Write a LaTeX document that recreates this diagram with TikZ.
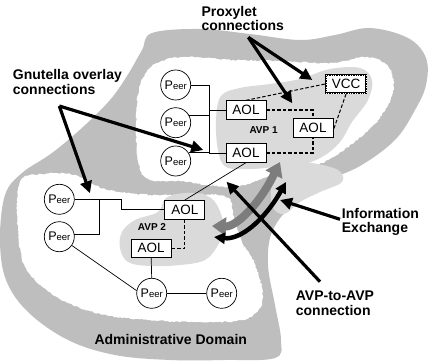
\documentclass[tikz,border=0pt]{standalone}
\usepackage{fontspec}
\setmainfont{Liberation Sans}
\usetikzlibrary{arrows.meta,decorations.pathmorphing}

\definecolor{domaingray}{RGB}{190,190,190}
\definecolor{avpgray}{RGB}{218,218,218}
\definecolor{flowgray}{RGB}{125,125,125}

% "Peer" with a large P and small trailing letters
\newcommand{\peerlabel}{{\fontsize{12.5}{12.5}\selectfont P}{\fontsize{9.5}{9.5}\selectfont eer}}

\begin{document}
\begin{tikzpicture}[x=1pt,y=-1pt,
  peer/.style={circle, draw, line width=0.7pt, fill=white, minimum size=30pt, inner sep=0pt},
  aol/.style={rectangle, draw, line width=0.8pt, fill=white, minimum width=40pt,
    minimum height=18.5pt, inner sep=0pt, font=\fontsize{13.5}{13.5}\selectfont},
  vccbox/.style={aol, line width=1.7pt,
    postaction={draw=white, line width=0.3pt, dash pattern=on 0.4pt off 2pt}},
  wire/.style={line width=0.7pt},
  dashwire/.style={line width=1.3pt, dash pattern=on 3.5pt off 2pt},
  thindash/.style={line width=1pt, dash pattern=on 3.5pt off 2pt},
  callout/.style={line width=3.2pt, -{Triangle[length=12pt,width=11.5pt]}},
  labeltext/.style={font=\bfseries\fontsize{14}{14.5}\selectfont, align=left,
    anchor=base west, inner sep=0pt},
  avplabel/.style={font=\bfseries\fontsize{10}{10}\selectfont, anchor=base west, inner sep=0pt},
  fuzzy/.style={decorate, decoration={random steps, segment length=2pt, amplitude=0.7pt}}
]
\pgfmathsetseed{7}
\useasboundingbox (0,0) rectangle (429,361);

% administrative domain
\fill[domaingray] plot[smooth cycle, tension=0.6] coordinates {
  (152,33) (200,29) (250,34) (300,40) (335,35) (370,28) (408,38) (426,58)
  (426,85) (415,110) (395,140) (360,166) (322,183) (292,205) (272,232)
  (268,265) (275,305) (281,340) (275,358) (225,360) (170,360) (115,355)
  (68,340) (28,312) (6,280) (0,240) (5,195) (22,173) (52,153) (83,127)
  (110,100) (127,76) (142,50)};

% inner white areas
\fill[white, fuzzy] plot[smooth cycle, tension=0.6] coordinates {
  (157,63) (183,57) (233,60) (283,61) (333,63) (367,57) (389,68) (393,92)
  (378,120) (352,144) (328,160) (300,171) (270,176) (240,186) (215,186)
  (180,181) (150,180) (139,165) (136,130) (138,95) (145,74)};
\fill[white, fuzzy] plot[smooth cycle, tension=0.6] coordinates {
  (20,182) (45,174) (75,175) (105,189) (150,195) (200,194) (228,198)
  (234,218) (242,242) (254,262) (262,288) (260,308) (242,320) (200,322)
  (150,320) (100,314) (55,296) (26,268) (18,230)};

% AVP regions
\fill[avpgray] plot[smooth cycle, tension=0.6] coordinates {
  (221,96) (240,88) (270,84) (300,79) (330,69) (360,68) (372,80) (368,100)
  (352,122) (340,142) (322,157) (300,165) (275,167) (250,169) (226,167)
  (218,150) (216,120)};
\fill[avpgray] plot[smooth cycle, tension=0.6] coordinates {
  (280,160) (312,163) (338,170) (342,182) (320,192) (300,202) (284,214)
  (272,206) (272,182)};
\fill[avpgray] plot[smooth cycle, tension=0.6] coordinates {
  (122,232) (135,220) (158,212) (166,198) (185,193) (205,195) (217,205)
  (224,228) (218,245) (205,260) (180,265) (150,266) (128,262) (120,248)};

% AVP 1 nodes
\node[peer] (p1) at (175.7,85) {\peerlabel};
\node[peer] (p2) at (175.7,122.7) {\peerlabel};
\node[peer] (p3) at (175.7,161) {\peerlabel};
\node[aol] (aola) at (246,110) {AOL};
\node[aol] (aolc) at (246,153) {AOL};
\node[aol] (aolb) at (313,128) {AOL};
\node[vccbox] (vcc) at (346,84) {VCC};
\node[avplabel] (avp1) at (249.3,133) {AVP 1};

% AVP 2 nodes
\node[peer] (p4) at (59.3,199.3) {\peerlabel};
\node[peer] (p5) at (59.3,236.7) {\peerlabel};
\node[peer] (p6) at (151.7,293.3) {\peerlabel};
\node[peer] (p7) at (221.7,293.3) {\peerlabel};
\node[aol] (aol2a) at (184.8,209.7) {AOL};
\node[aol] (aol2b) at (151.2,248.3) {AOL};
\node[avplabel] (avp2) at (137.7,230.7) {AVP 2};

% Gnutella wiring
\coordinate (bus1) at (209,0);
\coordinate (bus2) at (99.3,0);
\coordinate (bend2) at (121.7,0);
\draw[wire] (p1.east) -- (p1.east -| bus1) -- (p3.33 -| bus1) -- (p3.33);
\draw[wire] (p2.30) -- (p2.30 -| bus1);
\draw[wire] (aola.west) -- (aola.west -| bus1);
\draw[wire] (aolc.west) -- (aolc.west -| bus1);
\draw[wire] (p4.east) -- (p4.east -| bend2) -- (aol2a.west -| bend2) -- (aol2a.west);
\draw[wire] (p4.east -| bus2) -- (p5.10 -| bus2) -- (p5.10);
\draw[wire] (p5.-35) -- (p6.170);
\draw[wire] (p6.east) -- (p7.west);
\draw[wire] (aol2b.south) -- (p6.north);
\draw[wire] (aol2a.north) -- (aolc.south);

% proxylet wiring
\draw[dashwire] (aola.east) -| (aolb.north);
\draw[dashwire] (aolc.east) -| (aolb.south);
\draw[thindash] (aola.north) -- (vcc.west);
\draw[thindash] (vcc.south) -- ([yshift=-2pt]aolb.east);
\draw[dashwire] (aol2b.east) -| (aol2a.south);

% information exchange between the two AVPs
\coordinate (xg1) at (212,226);
\coordinate (xg2) at (280,162);
\coordinate (xb1) at (214,237);
\coordinate (xb2) at (286,182);
\draw[flowgray, line width=8pt, {Triangle[length=14pt,width=18pt]}-{Triangle[length=14pt,width=18pt]}]
  (xg1) .. controls (236,227) and (259,205) .. (xg2);
\draw[line width=4.5pt, {Triangle[length=11pt,width=11pt]}-{Triangle[length=11pt,width=11pt]}]
  (xb1) .. controls (240,240) and (264,221) .. (xb2);

% captions (anchored at the baseline of their last line) and their pointers
\node[labeltext] (gnutella) at (12.7,94.3) {Gnutella overlay\\connections};
\node[labeltext] (proxylet) at (201.3,31) {Proxylet\\connections};
\node[labeltext] (infoex) at (341.7,232.7) {Information\\Exchange};
\node[labeltext] (avpavp) at (295.7,315) {AVP-to-AVP\\connection};
\node[labeltext] (admin) at (94.3,344.3) {Administrative Domain};

\coordinate (gnusrc) at (59.3,106);
\coordinate (gnutip1) at (203.3,150);
\coordinate (gnutip2) at (90,193.3);
\coordinate (proxsrc) at (248.3,37.3);
\coordinate (proxtip1) at (312.3,80);
\coordinate (proxtip2) at (292.3,103.3);
\coordinate (infosrc) at (340,219.3);
\coordinate (infotip) at (280,200);
\coordinate (avpsrc) at (320,281.7);
\coordinate (avptip) at (226.5,181.7);

\draw[callout] (gnusrc) -- (gnutip1);
\draw[callout] (gnusrc) -- (gnutip2);
\draw[callout] (proxsrc) -- (proxtip1);
\draw[callout] (proxsrc) -- (proxtip2);
\draw[callout] (infosrc) -- (infotip);
\draw[callout] (avpsrc) -- (avptip);
\end{tikzpicture}
\end{document}
